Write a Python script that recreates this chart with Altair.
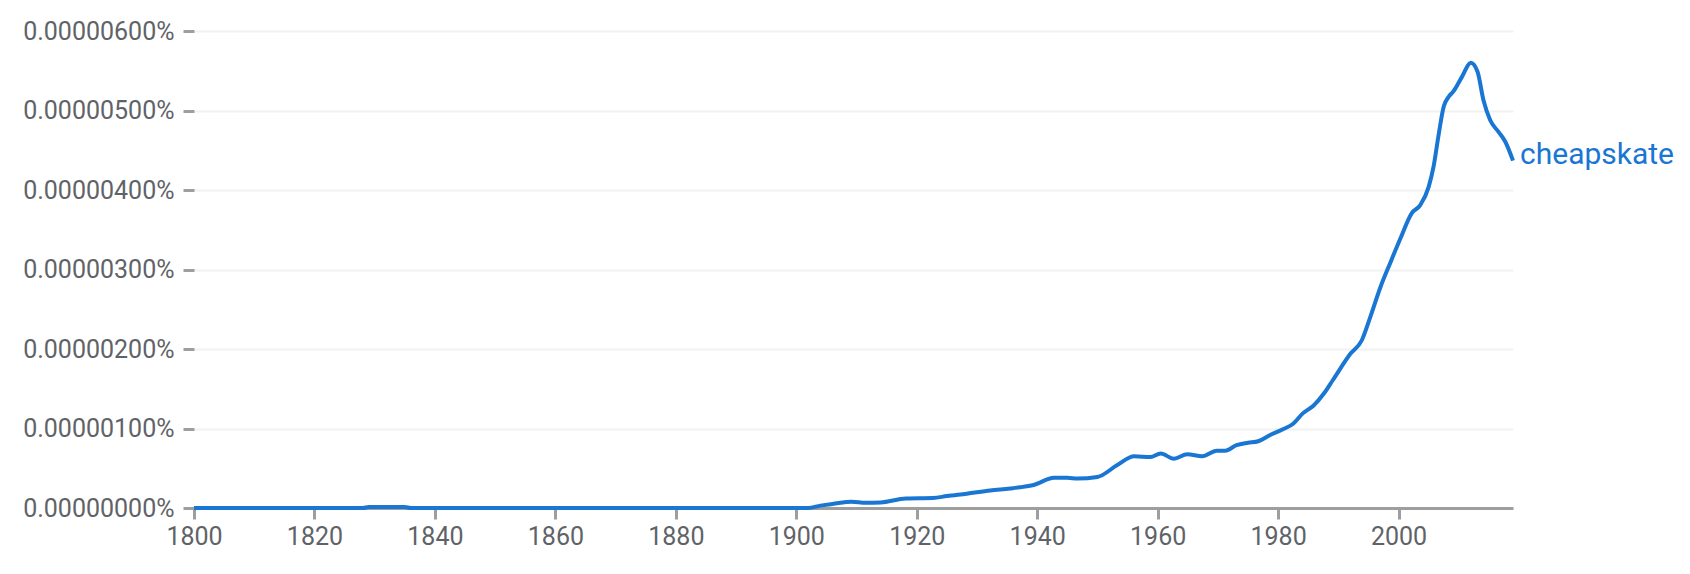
import pandas as pd
import altair as alt

# frequency of "cheapskate", in millionths of a percent
years = [1800, 1828, 1829, 1835, 1836, 1902, 1904, 1906, 1909.2, 1911.5,
         1914, 1918.2, 1922.7, 1925, 1928.3, 1932.2, 1935.5, 1937.1, 1939.4, 1942.8,
         1945, 1946.7, 1950, 1953.3, 1956.1, 1958.8, 1960.5, 1962.7, 1964.9, 1967.4,
         1969.8, 1971.2, 1973.1, 1975, 1976.7, 1978.6, 1980.8, 1982.5, 1984.1, 1985.9,
         1987.6, 1989.1, 1992, 1993.9, 1995.3, 1997, 1998.6, 2000.3, 2002.2, 2003.6,
         2005, 2005.8, 2006.6, 2007.5, 2008.3, 2009.1, 2010.5, 2012, 2013.1, 2014.1,
         2015.2, 2016.6, 2017.7, 2019]
values = [0, 0, 0.012, 0.012, 0, 0, 0.03, 0.05, 0.08, 0.065,
          0.07, 0.12, 0.125, 0.15, 0.18, 0.22, 0.245, 0.26, 0.29, 0.38,
          0.38, 0.37, 0.39, 0.54, 0.65, 0.64, 0.685, 0.62, 0.675, 0.65,
          0.72, 0.72, 0.79, 0.82, 0.84, 0.915, 0.99, 1.06, 1.19, 1.29,
          1.44, 1.61, 1.94, 2.11, 2.40, 2.78, 3.08, 3.39, 3.71, 3.81,
          4.04, 4.29, 4.67, 5.05, 5.17, 5.24, 5.42, 5.60, 5.49, 5.13,
          4.88, 4.73, 4.61, 4.37]
term = "cheapskate"
y_ticks = [0, 1, 2, 3, 4, 5, 6]
x_ticks = [1800, 1820, 1840, 1860, 1880, 1900, 1920, 1940, 1960, 1980, 2000]

blue = "#1976d2"
grey = "#9e9e9e"
text_grey = "#5f6368"

df = pd.DataFrame({"year": years, "freq": [v * 1e-6 for v in values], "term": term})

base = alt.Chart(df).encode(
    x=alt.X("year:Q", scale=alt.Scale(domain=[1800, 2019], nice=False, zero=False),
            axis=alt.Axis(title=None, values=x_ticks, format="d", grid=False,
                          domainColor=grey, domainWidth=3,
                          tickColor=grey, tickWidth=3, tickSize=11,
                          labelPadding=5, labelFontSize=25, labelColor=text_grey,
                          labelFont="Roboto", labelFlush=False)),
    y=alt.Y("freq:Q", scale=alt.Scale(domain=[0, 6e-6], nice=False),
            axis=alt.Axis(title=None, values=[t * 1e-6 for t in y_ticks],
                          labelExpr="format(datum.value, '.8f') + '%'",
                          domain=False, grid=True, gridColor="#f1f1f1", gridWidth=2,
                          tickColor=grey, tickWidth=3, tickSize=11,
                          labelPadding=9, labelFontSize=25, labelColor=text_grey,
                          labelFont="Roboto", labelFlush=False)),
)

line = base.mark_line(color=blue, strokeWidth=4, interpolate="monotone")

label = alt.Chart(df.tail(1)).mark_text(
    align="left", baseline="alphabetic", dx=7, dy=3,
    fontSize=30, font="Roboto", color=blue
).encode(x="year:Q", y="freq:Q", text="term:N")

chart = (line + label).properties(
    width=1319,
    height=477,
    autosize=alt.AutoSizeParams(type="none"),
    padding={"left": 186, "top": 23, "right": 169, "bottom": 50},
    background="white",
).configure_view(stroke=None)

chart.save("out.html", embed_options={"renderer": "svg", "actions": False})
